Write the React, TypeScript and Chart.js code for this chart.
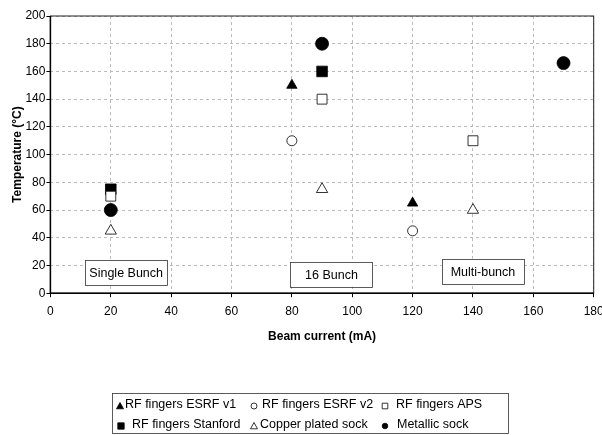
import React, { useEffect, useRef } from "react";
import { Chart, registerables } from "chart.js";

Chart.register(...registerables);

const seriesLabels = [
  "RF fingers ESRF v1",
  "RF fingers ESRF v2",
  "RF fingers APS",
  "RF fingers Stanford",
  "Copper plated sock",
  "Metallic sock",
];

const esrfV1X = [80, 120];
const esrfV1Y = [150, 65];
const esrfV2X = [80, 120];
const esrfV2Y = [110, 45];
const apsX = [20, 90, 140];
const apsY = [70, 140, 110];
const stanfordX = [20, 90];
const stanfordY = [75, 160];
const copperX = [20, 90, 140];
const copperY = [45, 75, 60];
const metallicX = [20, 90, 170];
const metallicY = [60, 180, 166];

const xTicks = [0, 20, 40, 60, 80, 100, 120, 140, 160, 180];
const yTicks = [0, 20, 40, 60, 80, 100, 120, 140, 160, 180, 200];

const annotationLabels = ["Single Bunch", "16 Bunch", "Multi-bunch"];
const annotationX = [25.1, 93.1, 143.3];
const annotationY = [15.2, 13.7, 15.9];

const FONT = "'Liberation Sans', Arial, sans-serif";

const toPts = (xs: number[], ys: number[]) => xs.map((x, i) => ({ x, y: ys[i] }));

type Style = { pointStyle: string; fill: boolean; radius: number };
const styles: Style[] = [
  { pointStyle: "triangle", fill: true, radius: 6 },
  { pointStyle: "circle", fill: false, radius: 5 },
  { pointStyle: "rect", fill: false, radius: 7 },
  { pointStyle: "rect", fill: true, radius: 7.5 },
  { pointStyle: "triangle", fill: false, radius: 6.5 },
  { pointStyle: "circle", fill: true, radius: 6.5 },
];

export default function App() {
  const ref = useRef<HTMLCanvasElement | null>(null);

  useEffect(() => {
    document.body.style.margin = "0";
    const canvas = ref.current;
    if (!canvas) return;

    const pointSets = [
      toPts(esrfV1X, esrfV1Y),
      toPts(esrfV2X, esrfV2Y),
      toPts(apsX, apsY),
      toPts(stanfordX, stanfordY),
      toPts(copperX, copperY),
      toPts(metallicX, metallicY),
    ];

    const datasets = seriesLabels.map((label, i) => ({
      label,
      data: pointSets[i],
      showLine: false,
      pointStyle: styles[i].pointStyle as any,
      pointRadius: styles[i].radius,
      pointBackgroundColor: styles[i].fill ? "#000" : "#fff",
      pointBorderColor: "#000",
      pointBorderWidth: 0.8,
      backgroundColor: styles[i].fill ? "#000" : "#fff",
      borderColor: "#000",
    }));

    const drawMarker = (
      ctx: CanvasRenderingContext2D,
      style: Style,
      x: number,
      y: number,
      r: number
    ) => {
      ctx.save();
      ctx.fillStyle = style.fill ? "#000" : "#fff";
      ctx.strokeStyle = "#000";
      ctx.lineWidth = 0.8;
      ctx.beginPath();
      if (style.pointStyle === "triangle") {
        ctx.moveTo(x, y - r);
        ctx.lineTo(x + r, y + r * 0.8);
        ctx.lineTo(x - r, y + r * 0.8);
        ctx.closePath();
      } else if (style.pointStyle === "rect") {
        ctx.rect(x - r * 0.8, y - r * 0.8, r * 1.6, r * 1.6);
      } else {
        ctx.arc(x, y, r, 0, Math.PI * 2);
      }
      ctx.fill();
      ctx.stroke();
      ctx.restore();
    };

    const decorPlugin = {
      id: "decor",
      beforeDatasetsDraw(chart: any) {
        const { ctx, chartArea, scales } = chart;
        ctx.save();
        ctx.strokeStyle = "#222";
        ctx.lineWidth = 1;
        ctx.strokeRect(chartArea.left, chartArea.top, chartArea.right - chartArea.left, chartArea.bottom - chartArea.top);
        ctx.lineWidth = 1.5;
        ctx.strokeStyle = "#000";
        ctx.beginPath();
        ctx.moveTo(chartArea.left, chartArea.top);
        ctx.lineTo(chartArea.left, chartArea.bottom);
        ctx.lineTo(chartArea.right, chartArea.bottom);
        ctx.stroke();
        ctx.font = `12.5px ${FONT}`;
        ctx.textAlign = "center";
        ctx.textBaseline = "middle";
        annotationLabels.forEach((t, i) => {
          const cx = scales.x.getPixelForValue(annotationX[i]);
          const cy = scales.y.getPixelForValue(annotationY[i]);
          const w = 82;
          const h = 25;
          ctx.fillStyle = "#fff";
          ctx.fillRect(cx - w / 2, cy - h / 2, w, h);
          ctx.strokeStyle = "#333";
          ctx.lineWidth = 0.8;
          ctx.strokeRect(Math.round(cx - w / 2) + 0.5, Math.round(cy - h / 2) + 0.5, w, h);
          ctx.fillStyle = "#000";
          ctx.fillText(t, cx, cy + 1);
        });
        ctx.restore();
      },
      afterDraw(chart: any) {
        const { ctx } = chart;
        ctx.save();
        const bx = 112, by = 393, bw = 396, bh = 40;
        ctx.strokeStyle = "#333";
        ctx.lineWidth = 0.8;
        ctx.strokeRect(bx + 0.5, by + 0.5, bw, bh);
        ctx.font = `12.5px ${FONT}`;
        ctx.fillStyle = "#000";
        ctx.textBaseline = "middle";
        ctx.textAlign = "left";
        const markerX = [120, 254, 385, 121, 254, 385];
        const textX = [125, 262, 396, 132, 260, 397];
        const rowY = [405, 425];
        const smallR = [3.5, 3, 3.5, 4, 3.5, 2.8];
        seriesLabels.forEach((label, i) => {
          const row = Math.floor(i / 3);
          const my = rowY[row];
          drawMarker(ctx, styles[i], markerX[i], my + 1, smallR[i]);
          ctx.fillStyle = "#000";
          ctx.fillText(label, textX[i], my);
        });
        ctx.restore();
      },
    };

    const gridOpts: any = {
      color: "#bbb",
      tickColor: "#000",
      tickLength: 4,
      tickBorderDash: [],
    };

    const chart = new Chart(canvas, {
      type: "scatter",
      data: { datasets },
      options: {
        responsive: false,
        animation: false,
        devicePixelRatio: 1,
        layout: { padding: { left: 10, right: 7, top: 16, bottom: 91 } },
        plugins: {
          legend: { display: false },
          tooltip: { enabled: false },
        },
        scales: {
          x: {
            type: "linear",
            min: 0,
            max: 180,
            afterBuildTicks: (s: any) => {
              s.ticks = xTicks.map((v) => ({ value: v }));
            },
            afterFit: (s: any) => {
              s.paddingRight = 0;
            },
            ticks: {
              color: "#000",
              font: { family: FONT, size: 12 },
              padding: 7,
              maxRotation: 0,
            },
            grid: gridOpts,
            border: { display: false, dash: [3, 3] },
            title: {
              display: true,
              text: "Beam current (mA)",
              color: "#000",
              font: { family: FONT, size: 12, weight: "bold" },
              padding: { top: 4, bottom: 0 },
            },
          },
          y: {
            type: "linear",
            min: 0,
            max: 200,
            afterBuildTicks: (s: any) => {
              s.ticks = yTicks.map((v) => ({ value: v }));
            },
            ticks: {
              color: "#000",
              font: { family: FONT, size: 12 },
              padding: 1,
            },
            grid: gridOpts,
            border: { display: false, dash: [3, 3] },
            title: {
              display: true,
              text: "Temperature (°C)",
              color: "#000",
              font: { family: FONT, size: 12, weight: "bold" },
              padding: { top: 0, bottom: 0 },
            },
          },
        },
      },
      plugins: [decorPlugin],
    });

    return () => chart.destroy();
  }, []);

  return (
    <div style={{ width: 602, height: 435, background: "#fff" }}>
      <canvas ref={ref} width={602} height={435} />
    </div>
  );
}
